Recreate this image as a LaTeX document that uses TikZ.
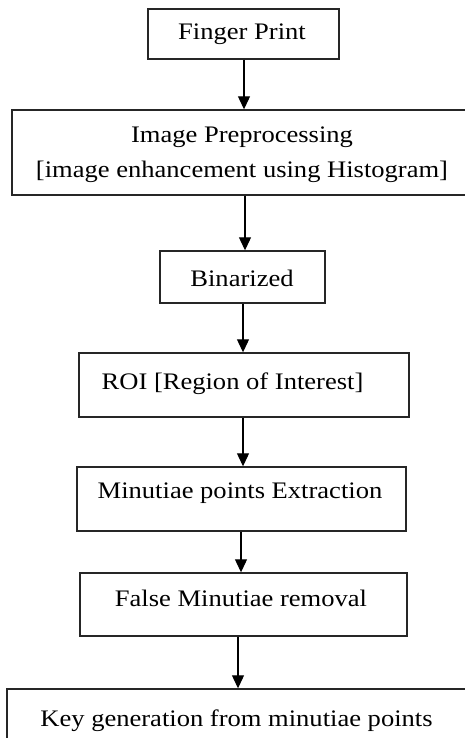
\documentclass[tikz,border=0pt]{standalone}
\usepackage{fontspec}
\setmainfont{Liberation Serif}[FakeStretch=1.12]
\usetikzlibrary{arrows.meta}
\begin{document}
\begin{tikzpicture}[x=1pt,y=-1pt,
  boxstyle/.style={draw=black!85,line width=1.4pt,rectangle,inner sep=0pt},
  lbl/.style={inner sep=0pt,anchor=center,font=\fontsize{23.7}{35}\selectfont,text=black},
  arr/.style={draw=black,line width=1.1pt,-{Triangle[length=13pt,width=12pt]}}]
\useasboundingbox (0,0) rectangle (464,738);
\node[boxstyle,minimum width=460pt,minimum height=85pt] (b2) at (242,152.5) {};
\node[boxstyle,minimum width=191pt,minimum height=50pt] (b1) at (243.5,34) {};
\node[boxstyle,minimum width=165pt,minimum height=52pt] (b3) at (242.5,277) {};
\node[boxstyle,minimum width=330pt,minimum height=64pt] (b4) at (244,385) {};
\node[boxstyle,minimum width=329pt,minimum height=64pt] (b5) at (241.5,499) {};
\node[boxstyle,minimum width=327pt,minimum height=63pt] (b6) at (243.5,604.5) {};
\node[boxstyle,minimum width=466pt,minimum height=71pt] (b7) at (240,724.5) {};
\node[lbl] (t1) at (242,34) {Finger Print};
\node[lbl,align=center] (t2) at (242,155) {Image Preprocessing\\{[}image enhancement using Histogram{]}};
\node[lbl] (t3) at (242,278) {Binarized};
\node[lbl] (t4) at (232.5,384) {ROI [Region of Interest]};
\node[lbl] (t5) at (240,493) {Minutiae points Extraction};
\node[lbl] (t6) at (241,598) {False Minutiae removal};
\node[lbl] (t7) at (236.5,721) {Key generation from minutiae points};
\coordinate (a1) at (244,0);
\coordinate (a2) at (245,0);
\coordinate (a3) at (243,0);
\coordinate (a4) at (243,0);
\coordinate (a5) at (241,0);
\coordinate (a6) at (238,0);
\draw[arr] (b1.south -| a1) -- (b2.north -| a1);
\draw[arr] (b2.south -| a2) -- (b3.north -| a2);
\draw[arr] (b3.south -| a3) -- (b4.north -| a3);
\draw[arr] (b4.south -| a4) -- (b5.north -| a4);
\draw[arr] (b5.south -| a5) -- (b6.north -| a5);
\draw[arr] (b6.south -| a6) -- (b7.north -| a6);
\end{tikzpicture}
\end{document}
